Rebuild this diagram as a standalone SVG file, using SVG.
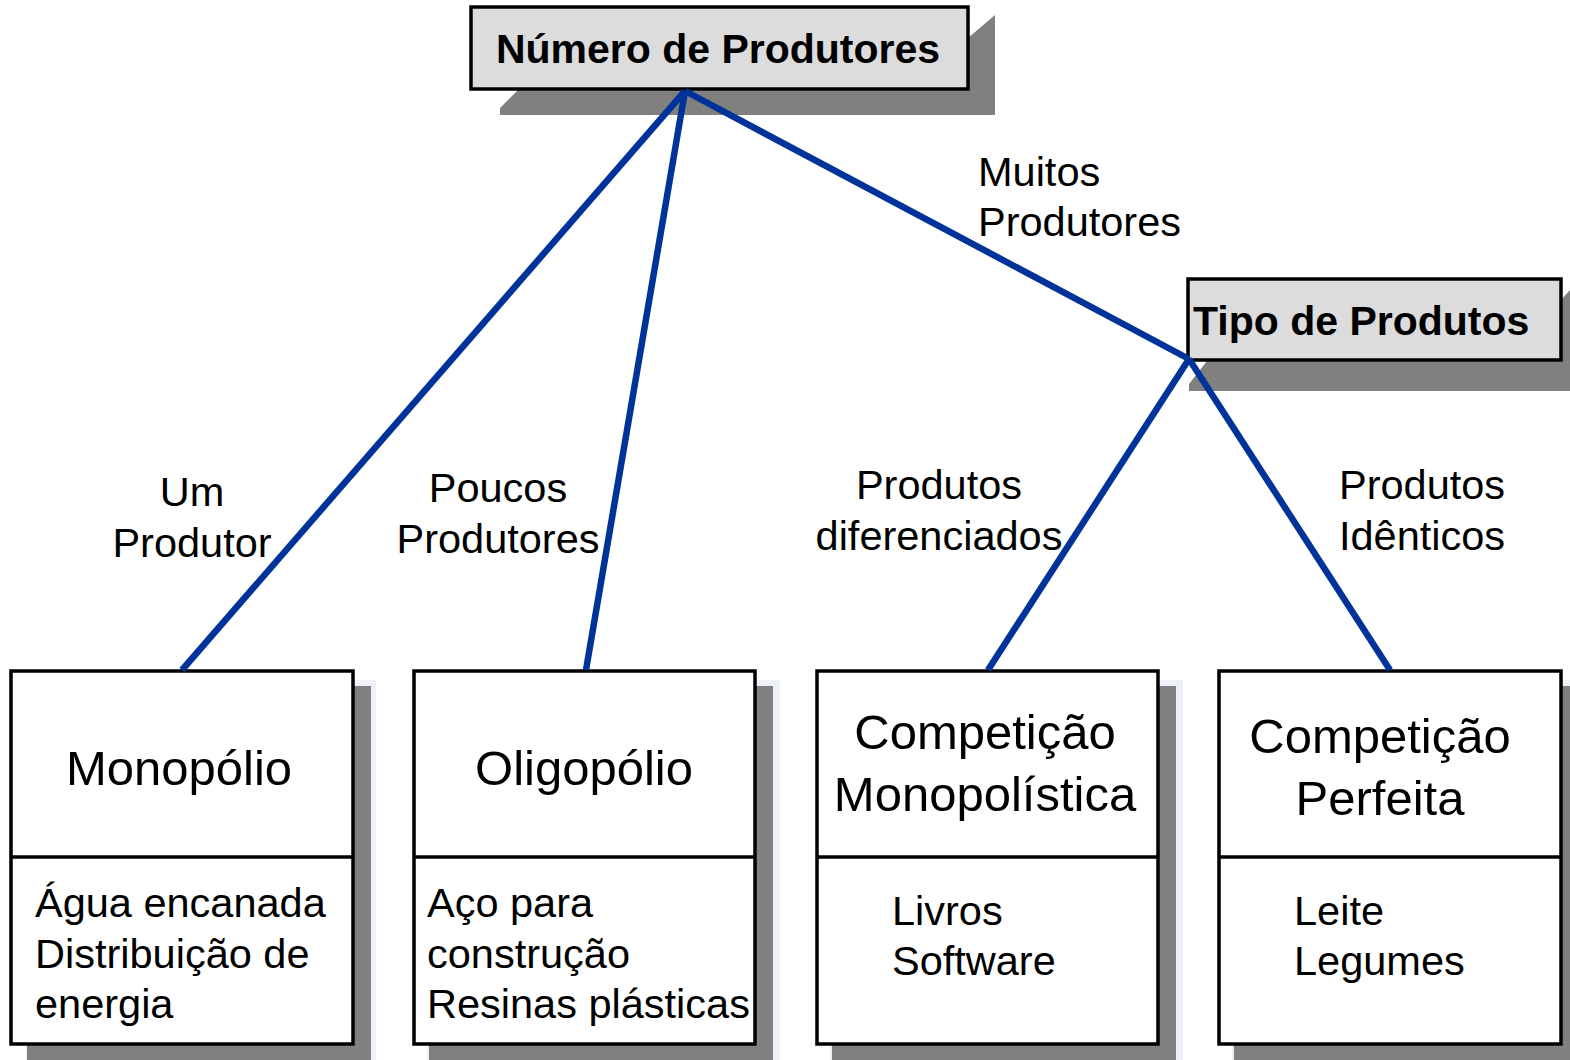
<svg xmlns="http://www.w3.org/2000/svg" width="1570" height="1060" viewBox="0 0 1570 1060">
<style>
  text { font-family: "Liberation Sans", Arial, sans-serif; fill: #000; }
  .hdr { font-size: 41px; font-weight: bold; }
  .lbl { font-size: 41.5px; }
  .ttl { font-size: 49px; }
  .itm { font-size: 41.5px; }
  .box { fill: #fff; stroke: #000; stroke-width: 3.5; }
  .hbox { fill: #dcdcdc; stroke: #000; stroke-width: 3.5; }
  .shadow { fill: #808080; }
  .halo { fill: #eef1f8; }
  .conn { stroke: #003399; stroke-width: 6.5; fill: none; stroke-linecap: butt; }
</style>
<rect width="1570" height="1060" fill="#fff"/>

<g id="edge-labels">
  <text class="lbl" x="192" y="506" text-anchor="middle">Um</text>
  <text class="lbl" x="192" y="557" text-anchor="middle">Produtor</text>
  <text class="lbl" x="498" y="502" text-anchor="middle">Poucos</text>
  <text class="lbl" x="498" y="553" text-anchor="middle">Produtores</text>
  <text class="lbl" x="978" y="186">Muitos</text>
  <text class="lbl" x="978" y="236">Produtores</text>
  <text class="lbl" x="939" y="499" text-anchor="middle">Produtos</text>
  <text class="lbl" x="939" y="550" text-anchor="middle">diferenciados</text>
  <text class="lbl" x="1339" y="499">Produtos</text>
  <text class="lbl" x="1339" y="550">Idênticos</text>
</g>

<g id="node-numero">
  <polygon class="shadow" points="968,38 995,15 995,115 500,115 500,108 519,89 968,89"/>
  <rect class="hbox" x="471" y="7" width="497" height="82"/>
  <text class="hdr" x="718" y="63" text-anchor="middle">Número de Produtores</text>
</g>

<g id="node-tipo">
  <polygon class="shadow" points="1561,300 1570,290 1570,391 1189,391 1189,384 1207,361 1561,361"/>
  <rect class="hbox" x="1188" y="279" width="373" height="81"/>
  <text class="hdr" x="1193" y="335">Tipo de Produtos</text>
</g>

<g id="node-monopolio">
  <rect class="halo" x="26" y="680" width="350" height="390"/>
  <rect class="shadow" x="27" y="686" width="344" height="384"/>
  <rect class="box" x="11" y="671" width="342" height="373"/>
  <line x1="11" y1="857" x2="353" y2="857" stroke="#000" stroke-width="3.5"/>
  <text class="ttl" x="179" y="785" text-anchor="middle">Monopólio</text>
  <text class="itm" x="35" y="917">Água encanada</text>
  <text class="itm" x="35" y="968">Distribuição de</text>
  <text class="itm" x="35" y="1018">energia</text>
</g>

<g id="node-oligopolio">
  <rect class="halo" x="427" y="680" width="353" height="390"/>
  <rect class="shadow" x="429" y="686" width="344" height="384"/>
  <rect class="box" x="414" y="671" width="341" height="373"/>
  <line x1="414" y1="857" x2="755" y2="857" stroke="#000" stroke-width="3.5"/>
  <text class="ttl" x="584" y="785" text-anchor="middle">Oligopólio</text>
  <text class="itm" x="427" y="917">Aço para</text>
  <text class="itm" x="427" y="968">construção</text>
  <text class="itm" x="427" y="1018">Resinas plásticas</text>
</g>

<g id="node-competicao-monopolistica">
  <rect class="halo" x="830" y="680" width="353" height="390"/>
  <rect class="shadow" x="832" y="686" width="344" height="384"/>
  <rect class="box" x="817" y="671" width="341" height="373"/>
  <line x1="817" y1="857" x2="1158" y2="857" stroke="#000" stroke-width="3.5"/>
  <text class="ttl" x="985" y="749" text-anchor="middle">Competição</text>
  <text class="ttl" x="985" y="811" text-anchor="middle">Monopolística</text>
  <text class="itm" x="892" y="925">Livros</text>
  <text class="itm" x="892" y="975">Software</text>
</g>

<g id="node-competicao-perfeita">
  <rect class="halo" x="1232" y="680" width="353" height="390"/>
  <rect class="shadow" x="1234" y="686" width="344" height="384"/>
  <rect class="box" x="1219" y="671" width="342" height="373"/>
  <line x1="1219" y1="857" x2="1561" y2="857" stroke="#000" stroke-width="3.5"/>
  <text class="ttl" x="1380" y="753" text-anchor="middle">Competição</text>
  <text class="ttl" x="1380" y="815" text-anchor="middle">Perfeita</text>
  <text class="itm" x="1294" y="925">Leite</text>
  <text class="itm" x="1294" y="975">Legumes</text>
</g>

<g id="connectors">
  <line class="conn" x1="685" y1="91" x2="182" y2="670"/>
  <line class="conn" x1="685" y1="91" x2="586" y2="670"/>
  <line class="conn" x1="685" y1="91" x2="1189" y2="359"/>
  <line class="conn" x1="1189" y1="359" x2="988" y2="670"/>
  <line class="conn" x1="1189" y1="359" x2="1390" y2="670"/>
</g>
</svg>
